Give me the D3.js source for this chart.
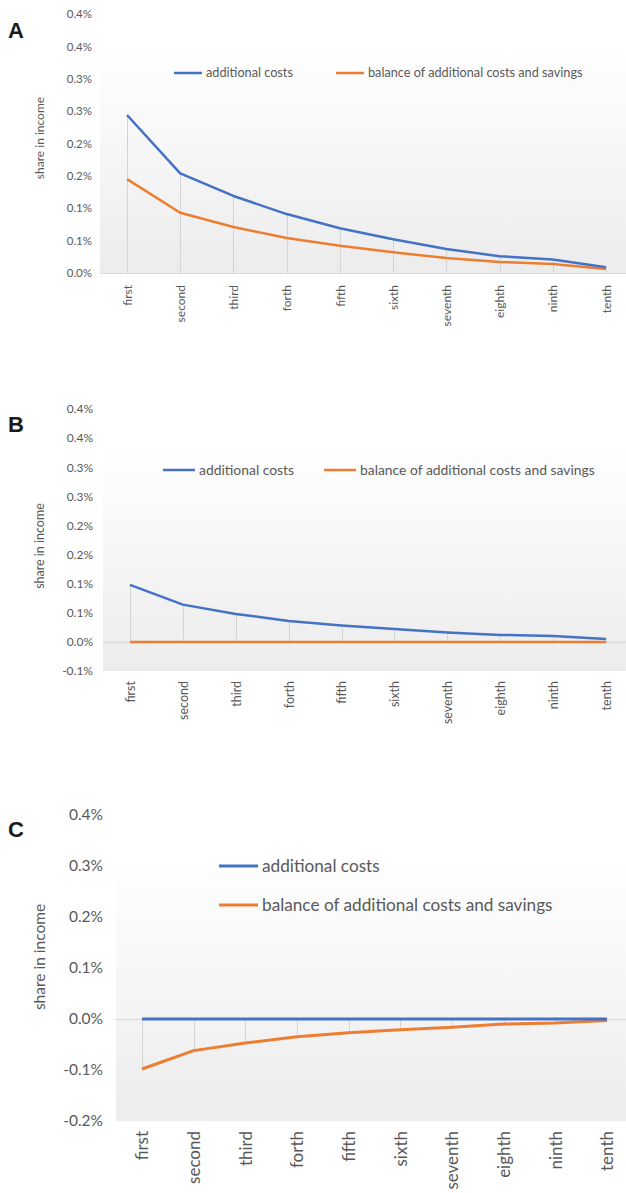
<!DOCTYPE html>
<html><head><meta charset="utf-8">
<script src="https://cdn.jsdelivr.net/npm/d3@7"></script>
<style>
html,body{margin:0;padding:0;background:#fff;}
svg{display:block;}
text{font-family:Lato,"Open Sans",sans-serif;fill:#595959;}
</style></head>
<body>
<svg id="chart" width="626" height="1193"></svg>
<script>
const categories = ["first","second","third","forth","fifth","sixth","seventh","eighth","ninth","tenth"];
const seriesNames = ["additional costs","balance of additional costs and savings"];
const seriesColors = ["#4472c4","#ed7d31"];

// Panel A
const A_costs   = [0.244,0.154,0.119,0.091,0.069,0.052,0.037,0.026,0.021,0.009];
const A_balance = [0.145,0.093,0.071,0.054,0.042,0.032,0.023,0.017,0.014,0.006];
const A_ticks = [0,0.05,0.1,0.15,0.2,0.25,0.3,0.35,0.4];
const A_tickLabels = ["0.0%","0.1%","0.1%","0.2%","0.2%","0.3%","0.3%","0.4%","0.4%"];

// Panel B
const B_costs   = [0.098,0.064,0.048,0.036,0.028,0.022,0.016,0.012,0.010,0.005];
const B_balance = [0,0,0,0,0,0,0,0,0,0];
const B_ticks = [-0.05,0,0.05,0.1,0.15,0.2,0.25,0.3,0.35,0.4];
const B_tickLabels = ["-0.1%","0.0%","0.1%","0.1%","0.2%","0.2%","0.3%","0.3%","0.4%","0.4%"];

// Panel C
const C_costs   = [0,0,0,0,0,0,0,0,0,0];
const C_balance = [-0.098,-0.062,-0.047,-0.035,-0.027,-0.021,-0.016,-0.010,-0.008,-0.003];
const C_ticks = [-0.2,-0.1,0,0.1,0.2,0.3,0.4];
const C_tickLabels = ["-0.2%","-0.1%","0.0%","0.1%","0.2%","0.3%","0.4%"];

const svg = d3.select("#chart");
const defs = svg.append("defs");
const grad = defs.append("linearGradient").attr("id","bgGrad").attr("x1",0).attr("y1",0).attr("x2",0).attr("y2",1);
grad.append("stop").attr("offset","0%").attr("stop-color","#ffffff");
grad.append("stop").attr("offset","100%").attr("stop-color","#ececec");

function drawPanel(cfg){
  const g = svg.append("g");
  const x = d3.scalePoint().domain(categories).range(cfg.xRange);
  const y = d3.scaleLinear().domain(cfg.yDomain).range(cfg.yRange);
  const series = [cfg.costs, cfg.balance];

  // plot background
  g.append("rect").attr("x",cfg.bg[0]).attr("y",cfg.bg[1])
    .attr("width",626-cfg.bg[0]).attr("height",y(cfg.yDomain[0])-cfg.bg[1])
    .attr("fill","url(#bgGrad)");

  // zero / axis line
  g.append("line").attr("x1",cfg.bg[0]).attr("x2",626)
    .attr("y1",y(0)+0.5).attr("y2",y(0)+0.5)
    .attr("stroke","#d9d9d9").attr("stroke-width",1.2);

  // drop lines
  g.selectAll(".drop").data(categories).enter().append("line")
    .attr("x1",d=>Math.round(x(d))+0.5).attr("x2",d=>Math.round(x(d))+0.5)
    .attr("y1",(d,i)=>y(Math.max(0,...series.map(s=>s[i]))))
    .attr("y2",(d,i)=>y(Math.min(0,...series.map(s=>s[i]))))
    .attr("stroke","#d4d4d4").attr("stroke-width",1);

  // y axis (labels only)
  const yAxis = d3.axisLeft(y).tickValues(cfg.ticks).tickSize(0).tickPadding(0)
    .tickFormat((d,i)=>cfg.tickLabels[i]);
  const ya = g.append("g").attr("transform",`translate(${cfg.yLabelX},0)`).call(yAxis);
  ya.select(".domain").remove();
  ya.selectAll("text").style("font-family","Lato,'Open Sans',sans-serif")
    .style("font-size",cfg.fs+"px").attr("fill","#595959");

  // x axis labels
  const xAxis = d3.axisBottom(x).tickSize(0).tickPadding(0);
  const xa = g.append("g").attr("transform",`translate(0,${cfg.xLabelY})`).call(xAxis);
  xa.select(".domain").remove();
  xa.selectAll("text").attr("transform","rotate(-90)").attr("text-anchor","end")
    .attr("x",0).attr("y",0).attr("dy","0.35em")
    .style("font-family","Lato,'Open Sans',sans-serif").style("font-size",cfg.xfs+"px").attr("fill","#595959");

  // lines
  const line = d3.line().x((d,i)=>x(categories[i])).y(d=>y(d));
  cfg.order.forEach(k=>{
    g.append("path").datum(series[k]).attr("d",line).attr("fill","none")
      .attr("stroke",seriesColors[k]).attr("stroke-width",cfg.lw)
      .attr("stroke-linejoin","round").attr("stroke-linecap","butt");
  });

  // legend
  cfg.legend.forEach((L,k)=>{
    g.append("line").attr("x1",L[0]).attr("x2",L[0]+cfg.legLen).attr("y1",L[1]).attr("y2",L[1])
      .attr("stroke",seriesColors[k]).attr("stroke-width",cfg.lw);
    g.append("text").attr("x",L[0]+cfg.legLen+4).attr("y",L[1]).attr("dy","0.35em")
      .style("font-size",cfg.legFs+"px").text(seriesNames[k]);
  });

  // y title
  g.append("text").attr("transform",`translate(${cfg.title[0]},${cfg.title[1]}) rotate(-90)`)
    .attr("text-anchor","middle").attr("dy","0.35em")
    .style("font-size",cfg.titleFs+"px").text("share in income");

  // panel letter
  g.append("text").attr("x",8).attr("y",cfg.letterY)
    .style("font-family","'Liberation Sans',Arial,sans-serif").style("font-weight","bold")
    .style("font-size","22px").style("fill","#1a1a1a").text(cfg.letter);
}

drawPanel({
  letter:"A", letterY:38,
  costs:A_costs, balance:A_balance, ticks:A_ticks, tickLabels:A_tickLabels,
  xRange:[127,606], yDomain:[0,0.4], yRange:[273,14], bg:[100,45],
  yLabelX:92, xLabelY:285, fs:11.5, xfs:12, lw:2.5,
  legend:[[174,73],[336,73]], legLen:28, legFs:12.7,
  title:[40,138], titleFs:12, order:[1,0]
});
drawPanel({
  letter:"B", letterY:432,
  costs:B_costs, balance:B_balance, ticks:B_ticks, tickLabels:B_tickLabels,
  xRange:[130,606], yDomain:[-0.05,0.4], yRange:[671,409], bg:[103,442],
  yLabelX:93, xLabelY:681, fs:12, xfs:12.5, lw:2.5,
  legend:[[163,470],[324,470]], legLen:32, legFs:13.9,
  title:[40,546], titleFs:12.5, order:[0,1]
});
drawPanel({
  letter:"C", letterY:837,
  costs:C_costs, balance:C_balance, ticks:C_ticks, tickLabels:C_tickLabels,
  xRange:[142,607], yDomain:[-0.2,0.4], yRange:[1121,815], bg:[116,853],
  yLabelX:103, xLabelY:1131, fs:15.5, xfs:17, lw:3,
  legend:[[219,866],[219,905]], legLen:39, legFs:17.2,
  title:[40,957], titleFs:15.5, order:[1,0]
});
</script>
</body></html>
